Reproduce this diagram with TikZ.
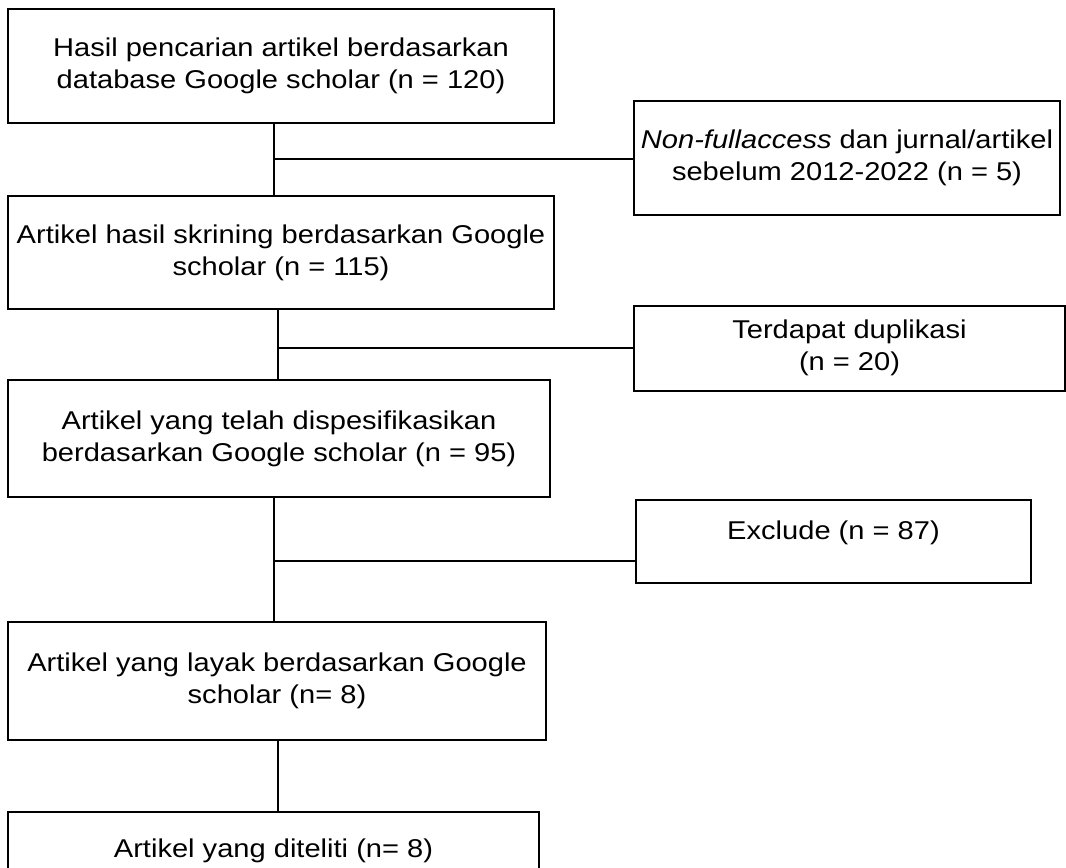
\documentclass[tikz,border=0pt]{standalone}
\usepackage{fontspec}
\setmainfont{Liberation Sans}[FakeStretch=1.13]
\begin{document}
\begin{tikzpicture}[x=0.75pt,y=-0.75pt,
  sz/.style 2 args={minimum width=#1*0.75pt,minimum height=#2*0.75pt},
  box/.style={draw=black,line width=1.5pt,inner sep=0pt,align=center,
    font=\fontsize{19.3}{24}\selectfont},
  link/.style={draw=black,line width=1.3pt}]
\useasboundingbox (0,0) rectangle (1066,867);
\clip (0,0) rectangle (1066,867);
\fill[white] (0,0) rectangle (1066,867);

\node[box,sz={546}{113.7}] (box1) at (281,65.9)
  {Hasil pencarian artikel berdasarkan\\database Google scholar (n = 120)};
\node[box,sz={426}{114.3}] (ex1) at (847,157.9)
  {\textit{Non-fullaccess} dan jurnal/artikel\\sebelum 2012-2022 (n = 5)};
\node[box,sz={546}{112.7}] (box2) at (281,252.4)
  {Artikel hasil skrining berdasarkan Google\\scholar (n = 115)};
\node[box,sz={431}{85}] (ex2) at (849.5,348.2)
  {Terdapat duplikasi\\(n = 20)};
\node[box,sz={542}{117}] (box3) at (279,438.5)
  {Artikel yang telah dispesifikasikan\\berdasarkan Google scholar (n = 95)};
\node[box,sz={395}{83},text height=14pt,text depth=17.75pt] (ex3) at (833.5,541.5)
  {Exclude (n = 87)};
\node[box,sz={538}{118.4}] (box4) at (277,680.8)
  {Artikel yang layak berdasarkan Google\\scholar (n= 8)};
\node[box,sz={531}{78}] (box5) at (273.5,851)
  {Artikel yang diteliti (n= 8)};

\coordinate (j1) at (274,159.3);
\coordinate (j2) at (277.7,347.7);
\coordinate (j3) at (274.3,561);
\coordinate (j4) at (277.9,775);

\draw[link] (j1 |- box1.south) -- (j1 |- box2.north);
\draw[link] (j1) -- (j1 -| ex1.west);
\draw[link] (j2 |- box2.south) -- (j2 |- box3.north);
\draw[link] (j2) -- (j2 -| ex2.west);
\draw[link] (j3 |- box3.south) -- (j3 |- box4.north);
\draw[link] (j3) -- (j3 -| ex3.west);
\draw[link] (j4 |- box4.south) -- (j4 |- box5.north);
\end{tikzpicture}
\end{document}
